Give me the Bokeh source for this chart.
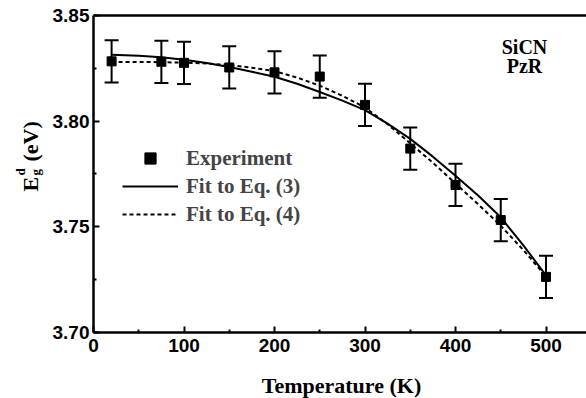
import math
from bokeh.plotting import figure
from bokeh.models import (ColumnDataSource, Whisker, TeeHead, Range1d, FixedTicker, LinearAxis,
                          PrintfTickFormatter, Label, Legend, LegendItem)
from bokeh.embed import file_html
from bokeh.resources import INLINE

# ---- data ----
temp_exp = [20, 75, 100, 150, 200, 250, 300, 350, 400, 450, 500]
eg_exp = [3.8283, 3.8281, 3.8276, 3.8254, 3.8231, 3.8211, 3.8077, 3.7870, 3.7698, 3.7532, 3.7263]
eg_err = [0.010, 0.010, 0.010, 0.010, 0.010, 0.010, 0.010, 0.010, 0.010, 0.010, 0.010]

temp_fit = [20, 50, 75, 100, 125, 150, 175, 200, 225, 250, 275, 300, 325, 350, 375, 400, 425, 450, 475, 500]
eg_fit3 = [3.8314, 3.8309, 3.8302, 3.8291, 3.8275, 3.8256, 3.8234, 3.8210, 3.8177, 3.8138,
           3.8097, 3.8052, 3.7988, 3.7916, 3.7832, 3.7742, 3.7648, 3.7545, 3.7412, 3.7270]
eg_fit4 = [3.8280, 3.8280, 3.8279, 3.8277, 3.8273, 3.8265, 3.8253, 3.8237, 3.8206, 3.8168,
           3.8120, 3.8065, 3.7985, 3.7895, 3.7803, 3.7705, 3.7607, 3.7505, 3.7390, 3.7265]

x_ticks = [0, 100, 200, 300, 400, 500]
x_minor = [50, 150, 250, 350, 450]
y_ticks = [3.70, 3.75, 3.80, 3.85]
y_minor = [3.725, 3.775, 3.825]
x_lo, x_hi = 0, 545
y_lo, y_hi = 3.70, 3.85

SERIF = "Liberation Serif"
SANS = "Liberation Sans"

W, H = 586, 398
# screen layout: T=0 at pixel column 93 (0.905 px/K); E=3.85 at pixel row 15 (2113 px/eV)
X0, XS = 93, 0.905
Y0, YS = 15, 2113.0

def tx(px):
    return (px - X0) / XS

def ey(py):
    return y_hi - (py - Y0) / YS

p = figure(width=W, height=H, output_backend="svg", toolbar_location=None,
           x_range=Range1d(tx(0), tx(W)), y_range=Range1d(ey(H), ey(0)),
           x_axis_location=None, y_axis_location=None,
           min_border_left=0, min_border_right=0, min_border_top=0, min_border_bottom=0)
p.outline_line_color = None
p.grid.visible = False
p.background_fill_color = "white"

xax = LinearAxis(fixed_location=y_lo, bounds=(x_lo, x_hi),
                 ticker=FixedTicker(ticks=x_ticks, minor_ticks=x_minor))
yax = LinearAxis(fixed_location=x_lo, bounds=(y_lo, y_hi),
                 ticker=FixedTicker(ticks=y_ticks, minor_ticks=y_minor),
                 formatter=PrintfTickFormatter(format="%.2f"))
top = LinearAxis(fixed_location=y_hi, bounds=(x_lo, x_hi),
                 ticker=FixedTicker(ticks=[]), major_label_text_font_size="0px",
                 major_tick_line_color=None, minor_tick_line_color=None,
                 axis_line_width=2.5, axis_line_color="black")

for ax in (xax, yax):
    ax.axis_line_width = 2.5
    ax.axis_line_color = "black"
    ax.major_tick_in = 6
    ax.major_tick_out = 0
    ax.minor_tick_in = 3
    ax.minor_tick_out = 0
    ax.major_tick_line_width = 2
    ax.minor_tick_line_width = 2
    ax.major_label_text_font = SANS
    ax.major_label_text_font_style = "bold"
    ax.major_label_text_font_size = "19px"
    ax.major_label_text_color = "black"
xax.major_label_standoff = 7
yax.major_label_standoff = 4

p.add_layout(xax, "below")
p.add_layout(yax, "left")
p.add_layout(top, "above")

src = ColumnDataSource(dict(x=temp_exp, y=eg_exp,
                            lo=[v - e for v, e in zip(eg_exp, eg_err)],
                            hi=[v + e for v, e in zip(eg_exp, eg_err)]))
fit = ColumnDataSource(dict(x=temp_fit, f3=eg_fit3, f4=eg_fit4))

r3 = p.line("x", "f3", source=fit, line_color="black", line_width=2)
r4 = p.line("x", "f4", source=fit, line_color="black", line_width=2, line_dash="4 3")
p.add_layout(Whisker(source=src, base="x", upper="hi", lower="lo", line_color="black", line_width=2,
                     upper_head=TeeHead(size=14, line_color="black", line_width=2),
                     lower_head=TeeHead(size=14, line_color="black", line_width=2)))
rs = p.scatter("x", "y", source=src, marker="square", size=9, color="black")

legend = Legend(items=[LegendItem(label="Experiment", renderers=[rs]),
                       LegendItem(label="Fit to Eq. (3)", renderers=[r3]),
                       LegendItem(label="Fit to Eq. (4)", renderers=[r4])],
                location=(122, H - 228), padding=0, margin=0, spacing=0,
                glyph_width=56, glyph_height=28, label_height=28, label_standoff=8,
                label_text_font=SERIF, label_text_font_style="bold", label_text_font_size="21px",
                border_line_color=None, background_fill_alpha=0)
p.add_layout(legend)

def lab(px, py, text, size, angle=0.0, align="left"):
    p.add_layout(Label(x=tx(px), y=ey(py), text=text, text_font=SERIF, text_font_style="bold",
                       text_font_size=size, text_color="black", angle=angle,
                       text_align=align, text_baseline="alphabetic"))

lab(524, 46.5, "SiCN", "20px", align="center")
lab(524, 65.5, "PzR", "20px", align="center")
lab(341, 385, "Temperature (K)", "22px", align="center")

# rotated y-axis label  E_g^d (eV)
a = math.pi / 2
lab(30, 191, "E", "22px", angle=a)
lab(20, 175, "d", "13px", angle=a)
lab(35, 175, "g", "13px", angle=a)
lab(30, 161, "(eV)", "22px", angle=a)

open("out.html", "w").write(file_html(p, INLINE))
